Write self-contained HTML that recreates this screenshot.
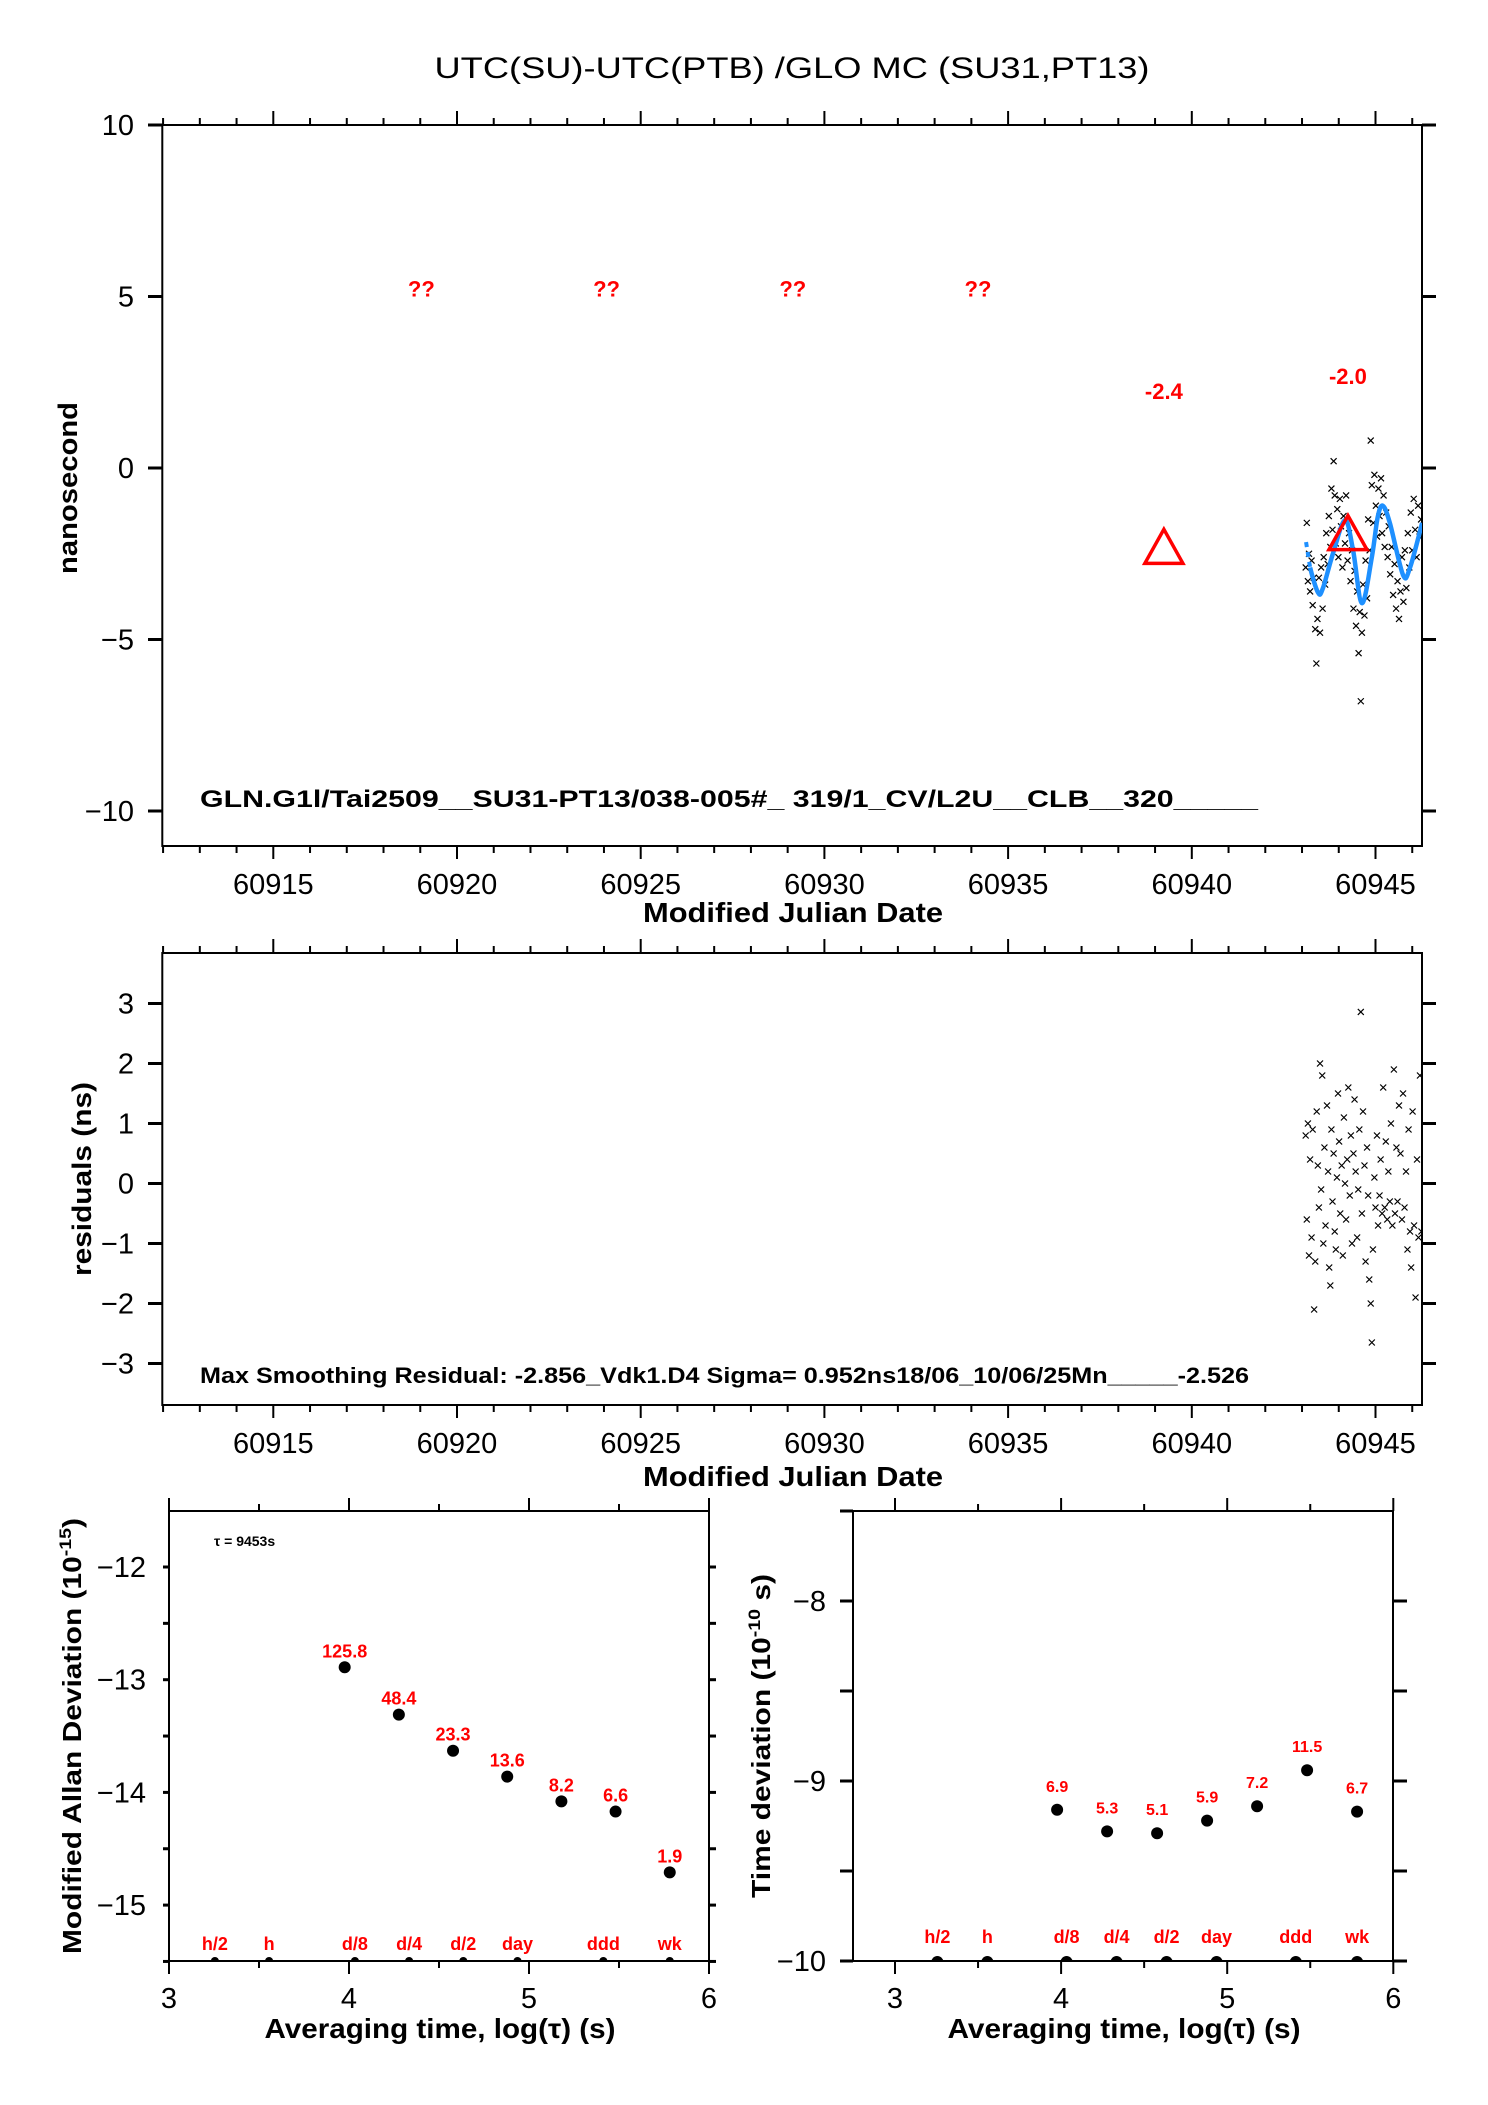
<!DOCTYPE html>
<html><head><meta charset="utf-8"><title>UTC(SU)-UTC(PTB) GLO MC</title>
<style>
html,body{margin:0;padding:0;background:#fff;}
svg{display:block;font-family:"Liberation Sans",Arial,sans-serif;}
.tl{font-size:29px;fill:#000;}
.bt{font-weight:bold;fill:#000;}
.rd{font-weight:bold;fill:#ff0000;}
</style></head>
<body>
<svg id="chart" xmlns="http://www.w3.org/2000/svg" width="1488" height="2105" viewBox="0 0 1488 2105">
<rect x="0" y="0" width="1488" height="2105" fill="#fff"/>
<text x="792" y="78" text-anchor="middle" font-size="30" textLength="715" lengthAdjust="spacingAndGlyphs">UTC(SU)-UTC(PTB)  /GLO  MC  (SU31,PT13)</text>
<text class="bt" font-size="27" transform="translate(77,488) rotate(-90)" text-anchor="middle" textLength="172" lengthAdjust="spacingAndGlyphs">nanosecond</text>
<text class="bt" font-size="28" x="793" y="922" text-anchor="middle" textLength="300" lengthAdjust="spacingAndGlyphs">Modified Julian Date</text>
<text class="bt" font-size="24" x="200" y="807" textLength="1058" lengthAdjust="spacingAndGlyphs">GLN.G1l/Tai2509__SU31-PT13/038-005#_  319/1_CV/L2U__CLB__320_____</text>
<text class="bt" font-size="27" transform="translate(91,1179) rotate(-90)" text-anchor="middle" textLength="194" lengthAdjust="spacingAndGlyphs">residuals (ns)</text>
<text class="bt" font-size="28" x="793" y="1486" text-anchor="middle" textLength="300" lengthAdjust="spacingAndGlyphs">Modified Julian Date</text>
<text class="bt" font-size="22" x="200" y="1383" textLength="1049" lengthAdjust="spacingAndGlyphs">Max Smoothing Residual: -2.856_Vdk1.D4  Sigma= 0.952ns18/06_10/06/25Mn_____-2.526</text>
<text class="bt" font-size="26" transform="translate(81,1736) rotate(-90)" text-anchor="middle" textLength="436" lengthAdjust="spacingAndGlyphs">Modified Allan Deviation (10<tspan font-size="17" dy="-10">-15</tspan><tspan dy="10">)</tspan></text>
<text class="bt" font-size="26" transform="translate(770,1736) rotate(-90)" text-anchor="middle" textLength="324" lengthAdjust="spacingAndGlyphs">Time deviation (10<tspan font-size="17" dy="-10">-10</tspan><tspan dy="10"> s)</tspan></text>
<text class="bt" font-size="28" x="440" y="2038" text-anchor="middle" textLength="351" lengthAdjust="spacingAndGlyphs">Averaging time, log(τ) (s)</text>
<text class="bt" font-size="28" x="1124" y="2038" text-anchor="middle" textLength="353" lengthAdjust="spacingAndGlyphs">Averaging time, log(τ) (s)</text>
<text class="bt" font-size="14" x="214" y="1546">τ = 9453s</text>
<defs>
<clipPath id="c1"><rect x="162" y="125" width="1260" height="721"/></clipPath>
<clipPath id="c2"><rect x="162" y="953" width="1260" height="452"/></clipPath>
<clipPath id="c3"><rect x="169" y="1511" width="540" height="450"/></clipPath>
<clipPath id="c4"><rect x="853" y="1511" width="540" height="450"/></clipPath>
</defs>
<g id="layer"></g>
</svg>
<script>
// ---------- data ----------
const offsetT = [60943.10,60943.13,60943.16,60943.19,60943.22,60943.26,60943.29,60943.32,60943.36,60943.39,60943.42,60943.46,60943.49,60943.52,60943.56,60943.59,60943.63,60943.66,60943.70,60943.73,60943.77,60943.80,60943.83,60943.86,60943.89,60943.92,60943.96,60943.99,60944.03,60944.06,60944.10,60944.13,60944.17,60944.20,60944.24,60944.28,60944.32,60944.36,60944.40,60944.43,60944.47,60944.50,60944.54,60944.57,60944.60,60944.63,60944.66,60944.70,60944.73,60944.77,60944.80,60944.84,60944.87,60944.90,60944.94,60944.97,60945.01,60945.04,60945.08,60945.11,60945.15,60945.18,60945.22,60945.25,60945.29,60945.33,60945.36,60945.40,60945.44,60945.48,60945.52,60945.56,60945.60,60945.64,60945.68,60945.72,60945.76,60945.80,60945.84,60945.88,60945.92,60945.96,60946.00,60946.04,60946.08,60946.12,60946.16,60946.20,60946.24];
const offsetV = [-2.9,-1.6,-3.3,-2.5,-3.6,-2.7,-4.0,-3.2,-4.7,-5.7,-4.4,-3.2,-4.8,-2.9,-4.1,-2.6,-3.4,-1.9,-2.8,-1.4,-2.3,-0.6,-1.8,0.2,-0.8,-2.2,-1.2,-2.6,-0.9,-1.7,-2.9,-1.4,-2.2,-0.8,-2.7,-1.9,-3.3,-2.4,-4.1,-3.0,-4.6,-3.6,-5.4,-4.2,-6.8,-4.8,-3.4,-4.3,-2.7,-3.8,-1.5,-2.4,0.8,-0.5,-1.6,-0.2,-1.1,-2.0,-0.6,-1.4,-0.3,-1.9,-0.8,-2.3,-1.3,-2.6,-1.7,-3.1,-2.3,-3.7,-2.8,-4.1,-3.3,-4.4,-3.6,-2.6,-3.9,-2.4,-3.5,-1.9,-2.9,-1.3,-2.4,-0.9,-1.8,-2.6,-1.1,-2.0,-1.5];
const smoothT = [60943.11,60943.22,60943.44,60943.57,60943.84,60944.17,60944.39,60944.63,60944.90,60945.06,60945.20,60945.39,60945.75,60945.94,60946.27];
const smoothV = [-2.16,-2.9,-3.64,-3.5,-2.5,-1.52,-2.4,-3.94,-2.6,-1.43,-1.1,-1.6,-3.12,-2.9,-1.6];
const triT = [60939.24,60944.25];
const triV = [-2.4,-2.0];
const triLabels = ['-2.4','-2.0'];
const unknownT = [60919.03,60924.07,60929.14,60934.18];
const unknownV = [5.2,5.2,5.2,5.2];
const residT = [60943.10,60943.13,60943.16,60943.19,60943.22,60943.26,60943.29,60943.33,60943.36,60943.40,60943.43,60943.46,60943.49,60943.52,60943.55,60943.58,60943.61,60943.64,60943.68,60943.71,60943.74,60943.77,60943.80,60943.83,60943.86,60943.89,60943.92,60943.95,60943.98,60944.01,60944.04,60944.08,60944.11,60944.14,60944.17,60944.20,60944.23,60944.26,60944.30,60944.33,60944.36,60944.40,60944.43,60944.46,60944.50,60944.53,60944.56,60944.60,60944.63,60944.66,60944.70,60944.73,60944.77,60944.80,60944.83,60944.87,60944.90,60944.93,60944.97,60945.00,60945.04,60945.07,60945.11,60945.14,60945.18,60945.21,60945.25,60945.28,60945.32,60945.35,60945.39,60945.42,60945.46,60945.50,60945.53,60945.57,60945.60,60945.64,60945.68,60945.72,60945.75,60945.79,60945.83,60945.87,60945.90,60945.94,60945.97,60946.01,60946.05,60946.09,60946.13,60946.17,60946.21,60946.25];
const residV = [0.8,-0.6,1.0,-1.2,0.4,-0.9,0.9,-2.1,-1.3,1.2,0.3,-0.4,2.0,-0.1,1.8,-1.0,0.6,-0.7,1.3,0.2,-1.4,-1.7,0.9,-0.3,0.5,-0.8,-1.1,0.1,1.5,0.7,-0.5,0.3,-1.2,1.1,0.0,-0.6,0.4,1.6,-0.2,0.8,-1.0,0.5,1.4,0.2,-0.9,-0.1,0.9,2.86,-0.5,1.2,0.3,-1.3,0.6,-0.2,-1.6,-2.0,-2.65,-1.1,0.1,-0.4,0.8,-0.7,-0.2,0.4,-0.5,1.6,-0.4,0.7,-0.6,0.2,-0.3,1.0,-0.7,1.9,-0.5,0.6,-0.3,1.3,0.5,-0.6,1.5,-0.4,0.2,-1.1,0.9,-0.8,-1.4,1.2,-0.7,-1.9,0.4,-0.9,1.8,-0.8];
const mjdTicks = [60915,60920,60925,60930,60935,60940,60945];
const topYTicks = [10,5,0,-5,-10];
const resYTicks = [3,2,1,0,-1,-2,-3];
const logTau = [3.976,4.277,4.578,4.879,5.180,5.481,5.782];
const madevV = [-12.89,-13.31,-13.63,-13.86,-14.08,-14.17,-14.71];
const madevLabels = ['125.8','48.4','23.3','13.6','8.2','6.6','1.9'];
const tdevV = [-9.16,-9.28,-9.29,-9.22,-9.14,-8.94,-9.17];
const tdevLabels = ['6.9','5.3','5.1','5.9','7.2','11.5','6.7'];
const markLog = [3.255,3.556,4.033,4.334,4.635,4.936,5.413,5.782];
const markNames = ['h/2','h','d/8','d/4','d/2','day','ddd','wk'];
const logTicks = [3,4,5,6];
const madevTicks = [-12,-13,-14,-15];
const tdevTicks = [-8,-9,-10];

// ---------- axis functions ----------
const NS='http://www.w3.org/2000/svg';
const layer=document.getElementById('layer');
const xM = d => 273.3 + (d-60915)*36.74;
const yTop = v => 468 - 34.3*v;
const yRes = r => 1183.5 - 60*r;
const x3 = l => 169 + (l-3)*180;
const y3 = v => 1567 + (-12 - v)*112.7;
const x4 = l => 895 + (l-3)*166.1;
const y4 = v => 1601 + (-8 - v)*180;
function mk(tag, attrs, parent){
  const e=document.createElementNS(NS,tag);
  for(const k in attrs) e.setAttribute(k,attrs[k]);
  (parent||layer).appendChild(e);
  return e;
}
function line(x1,y1,x2,y2,w,parent){
  return mk('line',{x1:x1,y1:y1,x2:x2,y2:y2,stroke:'#000','stroke-width':w||2},parent);
}
function fmt(v){ return v<0 ? '\u2212'+Math.abs(v) : String(v); }

function frame(x0,y0,x1,y1,name){
  const r=mk('rect',{x:x0,y:y0,width:x1-x0,height:y1-y0,fill:'none',stroke:'#000','stroke-width':2});
  
  
}

// ---------- panel 1 & 2 frames / ticks ----------
frame(162.3,125,1422,846,'offset-plot-frame');
frame(162.3,953,1422,1405,'residual-plot-frame');
[[125,846],[953,1405]].forEach(function(pr, pi){
  const g=mk('g',{});
  
  
  for(let d=60912; d<=60946; d++){
    const x=xM(d), major=(d%5===0);
    line(x,pr[0],x,pr[0]-(major?14:7),2,g);
    line(x,pr[1],x,pr[1]+(major?13:7),2,g);
  }
  mjdTicks.forEach(function(d){
    const t=mk('text',{x:xM(d),y:pr[1]+48,'text-anchor':'middle','class':'tl'},g);
    t.textContent=String(d);
    
    
  });
});
topYTicks.forEach(function(v){
  const y=yTop(v);
  line(148,y,162.3,y,3); line(1422,y,1436,y,3);
  const t=mk('text',{x:134,y:y+10,'text-anchor':'end','class':'tl'});
  t.textContent=fmt(v);
  
  
});
resYTicks.forEach(function(v){
  const y=yRes(v);
  line(148,y,162.3,y,3); line(1422,y,1436,y,3);
  const t=mk('text',{x:134,y:y+10,'text-anchor':'end','class':'tl'});
  t.textContent=fmt(v);
  
  
});

// ---------- panel 1 marks ----------
const g1=mk('g',{'clip-path':'url(#c1)'});


function cross(x,y,g,name){
  const p=mk('path',{d:'M'+(x-3)+' '+(y-3)+'L'+(x+3)+' '+(y+3)+'M'+(x-3)+' '+(y+3)+'L'+(x+3)+' '+(y-3),stroke:'#000','stroke-width':1.2,fill:'none'},g);
  
  
}
offsetT.forEach(function(t,i){ cross(xM(t),yTop(offsetV[i]),g1,'offset-point'); });
// smooth curve via catmull-rom
const sp=smoothT.map(function(t,i){return [xM(t),yTop(smoothV[i])];});
let dPath='M'+sp[1][0]+' '+sp[1][1];
for(let i=1;i<sp.length-1;i++){
  const p0=sp[i-1],p1=sp[i],p2=sp[i+1],p3=sp[Math.min(i+2,sp.length-1)];
  const c1=[p1[0]+(p2[0]-p0[0])/6,p1[1]+(p2[1]-p0[1])/6];
  const c2=[p2[0]-(p3[0]-p1[0])/6,p2[1]-(p3[1]-p1[1])/6];
  dPath+='C'+c1[0]+' '+c1[1]+' '+c2[0]+' '+c2[1]+' '+p2[0]+' '+p2[1];
}
const curve=mk('path',{d:dPath,stroke:'#1e90ff','stroke-width':4.5,fill:'none'},g1);


const dash=mk('path',{d:'M'+sp[0][0]+' '+sp[0][1]+'L'+sp[1][0]+' '+sp[1][1],stroke:'#1e90ff','stroke-width':4,'stroke-dasharray':'5 5',fill:'none'},g1);


triT.forEach(function(t,i){
  const x=xM(t), y=yTop(triV[i]);
  const tri=mk('path',{d:'M'+x+' '+(y-21)+'L'+(x+19)+' '+(y+13)+'L'+(x-19)+' '+(y+13)+'Z',stroke:'#ff0000','stroke-width':3.5,fill:'none'});
  
  
  const lb=mk('text',{x:x,y:i===0?399:384,'text-anchor':'middle','class':'rd','font-size':22});
  lb.textContent=triLabels[i];
  
  
});
unknownT.forEach(function(t,i){
  const lb=mk('text',{x:xM(t),y:yTop(unknownV[i])+7,'text-anchor':'middle','class':'rd','font-size':22});
  lb.textContent='??';
  
  
});

// ---------- panel 2 marks ----------
const g2=mk('g',{'clip-path':'url(#c2)'});


residT.forEach(function(t,i){ cross(xM(t),yRes(residV[i]),g2,'residual-point'); });

// ---------- panel 3 (MDEV) ----------
frame(169,1511,709,1961,'allan-plot-frame');
for(let l=3;l<=6.001;l+=0.5){
  const x=x3(l), major=Math.abs(l-Math.round(l))<0.01;
  line(x,1511,x,1511-(major?13:7)); line(x,1961,x,1961+(major?13:7));
}
for(let v=-12;v>=-15.5;v-=0.5){
  const y=y3(v); line(163,y,169,y,3); line(709,y,716,y,3);
}
logTicks.forEach(function(l){
  const t=mk('text',{x:x3(l),y:2008,'text-anchor':'middle','class':'tl'});
  t.textContent=String(l);
  
  
});
madevTicks.forEach(function(v){
  const t=mk('text',{x:146,y:y3(v)+10,'text-anchor':'end','class':'tl'});
  t.textContent=fmt(v);
  
  
});
logTau.forEach(function(l,i){
  const c=mk('circle',{cx:x3(l),cy:y3(madevV[i]),r:6,fill:'#000'});
  
  
  const t=mk('text',{x:x3(l),y:y3(madevV[i])-10,'text-anchor':'middle','class':'rd','font-size':18});
  t.textContent=madevLabels[i];
  
  
});
const g3=mk('g',{'clip-path':'url(#c3)'});
markLog.forEach(function(l,i){
  const c=mk('circle',{cx:x3(l),cy:1961,r:4,fill:'#000'},g3);
  
  
  const t=mk('text',{x:x3(l),y:1950,'text-anchor':'middle','class':'rd','font-size':18});
  t.textContent=markNames[i];
  
  
});

// ---------- panel 4 (TDEV) ----------
frame(853,1511,1393,1961,'time-deviation-plot-frame');
for(let l=3;l<=6.001;l+=0.5){
  const x=x4(l), major=Math.abs(l-Math.round(l))<0.01;
  line(x,1511,x,1511-(major?13:7)); line(x,1961,x,1961+(major?13:7));
}
for(let v=-8;v>=-10;v-=0.5){
  const y=y4(v); line(840,y,853,y,3); line(1393,y,1407,y,3);
}
line(840,1511,853,1511,3);
logTicks.forEach(function(l){
  const t=mk('text',{x:x4(l),y:2008,'text-anchor':'middle','class':'tl'});
  t.textContent=String(l);
  
  
});
tdevTicks.forEach(function(v){
  const t=mk('text',{x:826,y:y4(v)+10,'text-anchor':'end','class':'tl'});
  t.textContent=fmt(v);
  
  
});
logTau.forEach(function(l,i){
  const c=mk('circle',{cx:x4(l),cy:y4(tdevV[i]),r:6,fill:'#000'});
  
  
  const t=mk('text',{x:x4(l),y:y4(tdevV[i])-18,'text-anchor':'middle','class':'rd','font-size':16});
  t.textContent=tdevLabels[i];
  
  
});
const g4=mk('g',{'clip-path':'url(#c4)'});
markLog.forEach(function(l,i){
  const c=mk('circle',{cx:x4(l),cy:1962,r:6,fill:'#000'},g4);
  
  
  const t=mk('text',{x:x4(l),y:1943,'text-anchor':'middle','class':'rd','font-size':18});
  t.textContent=markNames[i];
  
  
});
</script>
</body></html>
